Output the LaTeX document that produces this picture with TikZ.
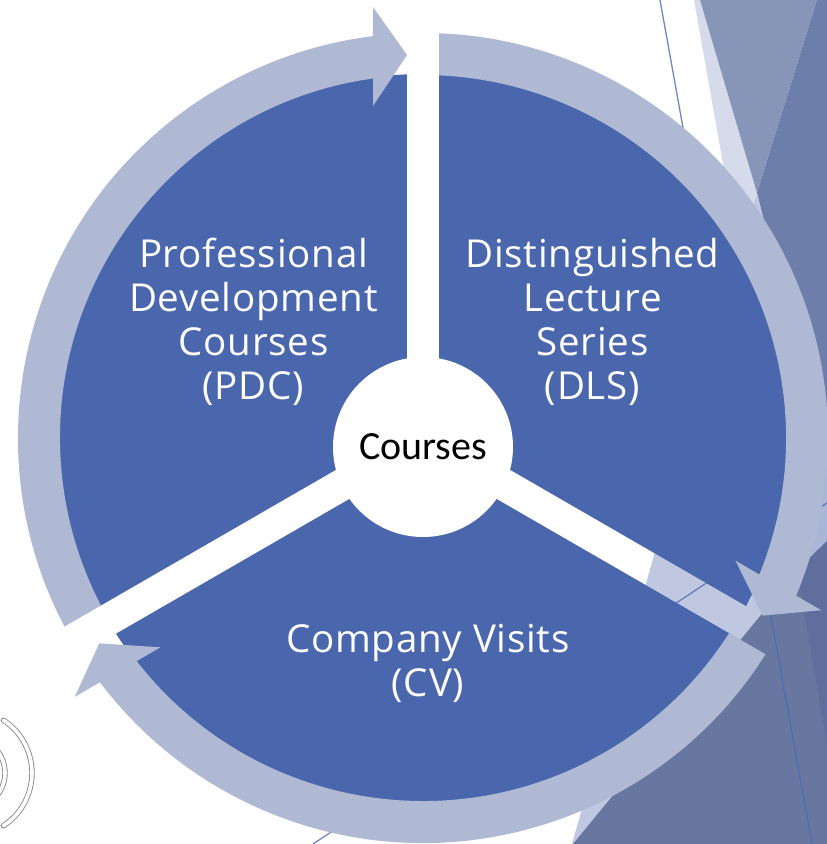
\documentclass[tikz,border=0pt]{standalone}
\usepackage{fontspec}
\setmainfont{Open Sans}[LetterSpace=2]
\newfontfamily\carlitofont{Carlito}
\usetikzlibrary{calc}
\definecolor{pieblue}{HTML}{4A66AC}
\definecolor{ringc}{HTML}{B0B9D3}
\definecolor{lavtop}{HTML}{D6DBEB}
\definecolor{lavbot}{HTML}{BFC8E0}
\definecolor{slatemid}{HTML}{8796B8}
\definecolor{slatedark}{HTML}{6E7EAB}
\definecolor{slatelow}{HTML}{6777A0}
\definecolor{slatedeep}{HTML}{5F6E9C}
\definecolor{lightband}{HTML}{AAB5D8}
\definecolor{thinlinec}{HTML}{4F6AB3}
\begin{document}
\begin{tikzpicture}[x=1pt,y=1pt,
  lbl/.style={text=white, align=center, font=\fontsize{38.5}{44}\selectfont, inner sep=0pt},
  hubstyle/.style={circle, fill=white, minimum size=180pt, inner sep=0pt, text=black, font=\carlitofont\fontsize{40}{48}\selectfont},
  thinln/.style={draw=thinlinec, line width=1.3pt, opacity=0.8},
  iconarc/.style={draw=black!45, line width=0.9pt, double=white, double distance=3.6pt, line cap=round}]
\useasboundingbox (0,0) rectangle (827,-844);
\fill[white] (0,0) rectangle (827,-844);
% background decoration
\fill[lavtop] (694,0) -- (700,0) -- (757,-193) -- (740,-260) -- cycle;
\fill[slatemid] (700,0) -- (817,0) -- (757,-193) -- cycle;
\fill[slatedark] (817,0) -- (827,0) -- (827,-480) -- (757,-193) -- cycle;
\fill[lavbot] (757,-193) -- (827,-470) -- (827,-844) -- (572,-844) -- cycle;
\fill[lightband] (827,-460) -- (827,-541) -- (795,-572) -- (770,-540) -- cycle;
\fill[slatelow] (573,-844) -- (765,-610) -- (827,-545) -- (827,-844) -- cycle;
\fill[slatedeep] (827,-541) -- (797,-570) -- (827,-745) -- cycle;
\draw[thinln] (660,0) coordinate (la) -- (812,-844) coordinate (lb);
\draw[thinln] (313,-844) coordinate (lc) -- (827,-503) coordinate (ld);
% audio icon arcs
\coordinate (ico) at (-31,-773);
\draw[iconarc] (ico) ++(57:63) arc[start angle=57, end angle=-57, radius=63];
\draw[iconarc] (ico) ++(40:36) arc[start angle=40, end angle=-40, radius=36];
% segmented cycle
\begin{scope}[shift={(423,-438)}]
  \foreach \bis in {150,30,270} {
    \pgfmathsetmacro{\gap}{\bis-60}
    \begin{scope}
      \clip (\bis:18.5) -- +(\bis+60:900) -- +(\bis:1100) -- +(\bis-60:900) -- cycle;
      \fill[pieblue] (0,0) circle (364);
      \fill[ringc] (\bis+65:405) arc[start angle=\bis+65, end angle=\gap+7, radius=405]
        -- (\gap+7:363) arc[start angle=\gap+7, end angle=\bis+65, radius=363] -- cycle;
      \begin{scope}[rotate=\gap]
        \fill[ringc] (332,50) -- (431,50) -- (383,16) -- cycle;
      \end{scope}
    \end{scope}
  }
\end{scope}
\node[hubstyle] (hub) at (423,-447) {Courses};
\node[lbl] (pdc) at (253.5,-322) {Professional\\Development\\Courses\\(PDC)};
\node[lbl] (dls) at (592.5,-322) {Distinguished\\Lecture\\Series\\(DLS)};
\node[lbl] (cv) at (428,-663) {Company Visits\\(CV)};
\end{tikzpicture}
\end{document}
